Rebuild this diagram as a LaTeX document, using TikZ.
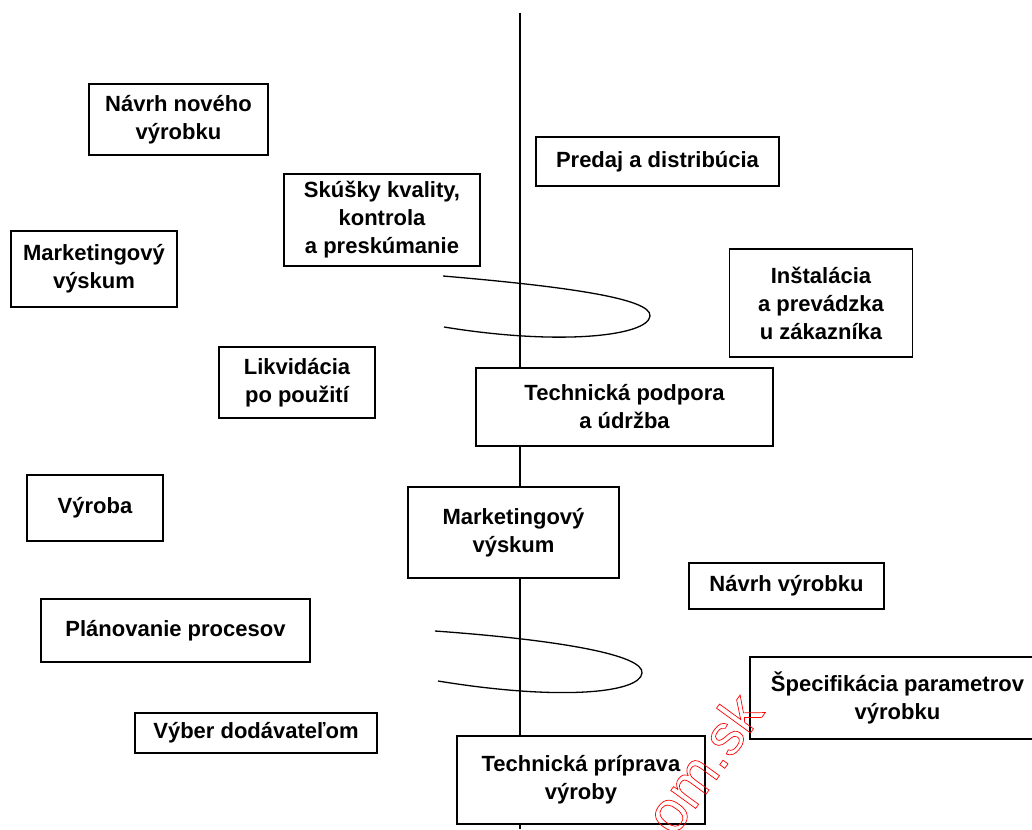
\documentclass[tikz,border=0pt]{standalone}
\usepackage{fontspec}
\setmainfont{Liberation Sans}
\tikzset{
  blok/.style={draw, line width=1.5pt, fill=white, align=center, inner sep=0pt,
    font=\fontsize{22}{28}\selectfont\bfseries},
  os/.style={line width=1.6pt},
  spirala/.style={line width=1.3pt},
}
\begin{document}
\begin{tikzpicture}[x=1pt,y=-1pt]
% Parameters
\def\osx{520}; \def\ostop{13}; \def\osbot{829};
\useasboundingbox (0,0) rectangle (1032,829);
\clip (0,0) rectangle (1032,829);
\fill[white] (0,0) rectangle (1032,829);

% Left column
\node[blok, minimum width=179, minimum height=71] (navrhnovy) at (178.5,119.5) {Návrh nového\\výrobku};
\node[blok, minimum width=196, minimum height=92] (skusky) at (382,220) {Skúšky kvality,\\kontrola\\a preskúmanie};
\node[blok, minimum width=166, minimum height=76] (marketl) at (94,269) {Marketingový\\výskum};
\node[blok, minimum width=156, minimum height=71] (likvidacia) at (297,382.5) {Likvidácia\\po použití};
\node[blok, minimum width=136, minimum height=66] (vyroba) at (95,508) {Výroba};
\node[blok, minimum width=269, minimum height=63] (planovanie) at (175.5,630.5) {Plánovanie procesov};
\node[blok, minimum width=242, minimum height=40] (vyber) at (256,733) {Výber dodávateľom};

% Right column
\node[blok, minimum width=243, minimum height=49] (predaj) at (657.5,161.5) {Predaj a distribúcia};
\node[blok, minimum width=183, minimum height=108] (instalacia) at (821,303) {Inštalácia\\a prevádzka\\u zákazníka};
\node[blok, minimum width=195, minimum height=46] (navrh) at (786.5,586) {Návrh výrobku};
\node[blok, minimum width=295, minimum height=82] (specifikacia) at (897.5,698) {Špecifikácia parametrov\\výrobku};

% Boxes on the axis
\node[blok, minimum width=297, minimum height=78] (podpora) at (624.5,407) {Technická podpora\\a údržba};
\node[blok, minimum width=211, minimum height=91] (marketc) at (513.5,532.5) {Marketingový\\výskum};
\node[blok, minimum width=248, minimum height=88] (priprava) at (581,780) {Technická príprava\\výroby};

% Axis
\coordinate (hore) at (\osx,\ostop);
\coordinate (dole) at (\osx,\osbot);
\draw[os] (hore) -- (hore |- podpora.north);
\draw[os] (hore |- podpora.south) -- (hore |- marketc.north);
\draw[os] (hore |- marketc.south) -- (hore |- priprava.north);
\draw[os] (hore |- priprava.south) -- (dole);

% Spirals
\draw[spirala] (443,276) .. controls (560,286) and (652,298) .. (650,316)
  .. controls (648,336) and (560,346) .. (444,327);
\draw[spirala] (435,631) .. controls (560,640) and (644,655) .. (642,673)
  .. controls (640,693) and (560,701) .. (438,681);

% Watermark
\node[text=red, rotate=54, font=\fontsize{58}{58}\selectfont] (znak) at (703,763)
  {\special{pdf:literal direct 1 Tr 0.7 w}om.sk\special{pdf:literal direct 0 Tr}};
\end{tikzpicture}
\end{document}
